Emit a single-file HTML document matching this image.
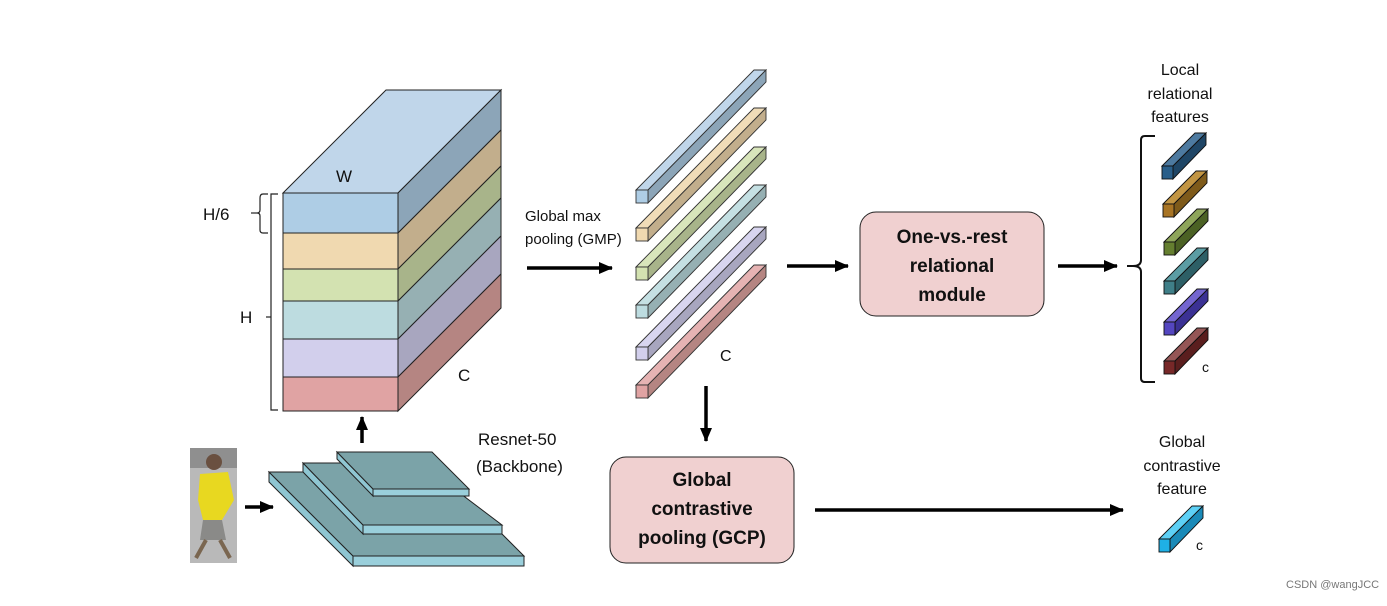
<!DOCTYPE html>
<html><head><style>
body{margin:0;background:#fff}
svg text{font-family:"Liberation Sans",sans-serif;fill:#111}
</style></head><body>
<svg width="1387" height="601" viewBox="0 0 1387 601" xmlns="http://www.w3.org/2000/svg">
<defs>
<marker id="a2" markerWidth="14" markerHeight="12" refX="13" refY="6" orient="auto" markerUnits="userSpaceOnUse"><path d="M0,0 L14,6 L0,12 z" fill="#000"/></marker></defs>
<g stroke="#222" stroke-width="1">
<polygon points="283,193 386,90 501,90 398,193" fill="#c0d6ea"/>
<polygon points="398,193 501,90 501,130 398,233" fill="#8ca5b8"/>
<polygon points="398,233 501,130 501,166 398,269" fill="#c2ae8c"/>
<polygon points="398,269 501,166 501,198 398,301" fill="#a8b48a"/>
<polygon points="398,301 501,198 501,236 398,339" fill="#96b0b3"/>
<polygon points="398,339 501,236 501,274 398,377" fill="#a8a6bf"/>
<polygon points="398,377 501,274 501,308 398,411" fill="#b58582"/>
<rect x="283" y="193" width="115" height="40" fill="#aecde5"/>
<rect x="283" y="233" width="115" height="36" fill="#f0d9b0"/>
<rect x="283" y="269" width="115" height="32" fill="#d3e2b1"/>
<rect x="283" y="301" width="115" height="38" fill="#bddce0"/>
<rect x="283" y="339" width="115" height="38" fill="#d2cfec"/>
<rect x="283" y="377" width="115" height="34" fill="#e0a3a3"/>
</g>
<path d="M278,194 h-7 v216 h7" fill="none" stroke="#222" stroke-width="1.2"/>
<path d="M271,317 h-5" stroke="#222" stroke-width="1.2"/>
<path d="M268,194 h-5 q-3,0 -3,4 v12 q0,3 -3,3 q3,0 3,3 v14 q0,3 3,3 h5" fill="none" stroke="#222" stroke-width="1.2"/>
<path d="M257,213 h-6" stroke="#222" stroke-width="1.2"/>
<text x="336" y="182" font-size="17">W</text>
<text x="203" y="220" font-size="17">H/6</text>
<text x="240" y="323" font-size="17">H</text>
<text x="458" y="381" font-size="17">C</text>
<g stroke="#333" stroke-width="0.9">
<polygon points="636,190 754,70 766,70 648,190" fill="#c0d6ea"/><polygon points="648,190 766,70 766,82 648,203" fill="#8ca5b8"/><rect x="636" y="190" width="12" height="13" fill="#aecde5"/>
<polygon points="636,228 754,108 766,108 648,228" fill="#f0dcb8"/><polygon points="648,228 766,108 766,120 648,241" fill="#c2ae8c"/><rect x="636" y="228" width="12" height="13" fill="#f0d9b0"/>
<polygon points="636,267 754,147 766,147 648,267" fill="#d8e5bb"/><polygon points="648,267 766,147 766,159 648,280" fill="#a8b48a"/><rect x="636" y="267" width="12" height="13" fill="#d3e2b1"/>
<polygon points="636,305 754,185 766,185 648,305" fill="#c5e0e3"/><polygon points="648,305 766,185 766,197 648,318" fill="#96b0b3"/><rect x="636" y="305" width="12" height="13" fill="#bddce0"/>
<polygon points="636,347 754,227 766,227 648,347" fill="#d8d5ef"/><polygon points="648,347 766,227 766,239 648,360" fill="#a8a6bf"/><rect x="636" y="347" width="12" height="13" fill="#d2cfec"/>
<polygon points="636,385 754,265 766,265 648,385" fill="#e6b3b3"/><polygon points="648,385 766,265 766,277 648,398" fill="#b58582"/><rect x="636" y="385" width="12" height="13" fill="#e0a3a3"/>
</g>
<text x="720" y="361" font-size="16">C</text>
<text x="525" y="221" font-size="15">Global max</text>
<text x="525" y="244" font-size="15">pooling (GMP)</text>
<g stroke="#000" stroke-width="3.5" fill="none">
<line x1="527" y1="268" x2="612" y2="268" marker-end="url(#a2)"/>
<line x1="787" y1="266" x2="848" y2="266" marker-end="url(#a2)"/>
<line x1="1058" y1="266" x2="1117" y2="266" marker-end="url(#a2)"/>
<line x1="706" y1="386" x2="706" y2="441" marker-end="url(#a2)"/>
<line x1="815" y1="510" x2="1123" y2="510" marker-end="url(#a2)"/>
<line x1="362" y1="443" x2="362" y2="417" marker-end="url(#a2)"/>
<line x1="245" y1="507" x2="273" y2="507" marker-end="url(#a2)"/>
</g>
<rect x="860" y="212" width="184" height="104" rx="16" fill="#f0d0d0" stroke="#222" stroke-width="1"/>
<text font-size="19" font-weight="bold" text-anchor="middle"><tspan x="952" y="243">One-vs.-rest</tspan><tspan x="952" y="272">relational</tspan><tspan x="952" y="301">module</tspan></text>
<rect x="610" y="457" width="184" height="106" rx="16" fill="#f0d0d0" stroke="#222" stroke-width="1"/>
<text font-size="19" font-weight="bold" text-anchor="middle"><tspan x="702" y="486">Global</tspan><tspan x="702" y="515">contrastive</tspan><tspan x="702" y="544">pooling (GCP)</tspan></text>
<path d="M1155,136 h-10 q-4,0 -4,4 v120 q0,6 -8,6 q8,0 8,6 v106 q0,4 4,4 h10" fill="none" stroke="#111" stroke-width="2"/>
<path d="M1133,266 h-6" stroke="#111" stroke-width="2"/>
<g stroke="#111" stroke-width="0.9">
<g><polygon points="1162,166 1195,133 1206,133 1173,166" fill="#4d7aa0"/><polygon points="1173,166 1206,133 1206,145 1173,179" fill="#1f4666"/><rect x="1162" y="166" width="11" height="13" fill="#2a5f8a"/></g>
<g><polygon points="1163,204 1196,171 1207,171 1174,204" fill="#c29543"/><polygon points="1174,204 1207,171 1207,183 1174,217" fill="#7e5a1a"/><rect x="1163" y="204" width="11" height="13" fill="#a87424"/></g>
<g><polygon points="1164,242 1197,209 1208,209 1175,242" fill="#8ea55a"/><polygon points="1175,242 1208,209 1208,221 1175,255" fill="#4b6124"/><rect x="1164" y="242" width="11" height="13" fill="#657f30"/></g>
<g><polygon points="1164,281 1197,248 1208,248 1175,281" fill="#5b9da4"/><polygon points="1175,281 1208,248 1208,260 1175,294" fill="#2d5f66"/><rect x="1164" y="281" width="11" height="13" fill="#3f7f88"/></g>
<g><polygon points="1164,322 1197,289 1208,289 1175,322" fill="#7466d0"/><polygon points="1175,322 1208,289 1208,301 1175,335" fill="#3b3194"/><rect x="1164" y="322" width="11" height="13" fill="#5446c0"/></g>
<g><polygon points="1164,361 1197,328 1208,328 1175,361" fill="#955656"/><polygon points="1175,361 1208,328 1208,340 1175,374" fill="#5a1e1e"/><rect x="1164" y="361" width="11" height="13" fill="#772828"/></g>
<g><polygon points="1159,539 1192,506 1203,506 1170,539" fill="#5dd0f5"/><polygon points="1170,539 1203,506 1203,518 1170,552" fill="#1a8ab8"/><rect x="1159" y="539" width="11" height="13" fill="#1fb0e6"/></g>
</g>
<text x="1202" y="372" font-size="14">c</text>
<text x="1196" y="550" font-size="14">c</text>
<text font-size="16" text-anchor="middle"><tspan x="1180" y="75">Local</tspan><tspan x="1180" y="99">relational</tspan><tspan x="1180" y="122">features</tspan></text>
<text font-size="16" text-anchor="middle"><tspan x="1182" y="447">Global</tspan><tspan x="1182" y="471">contrastive</tspan><tspan x="1182" y="494">feature</tspan></text>
<g stroke="#222" stroke-width="1">
<polygon points="269,472 353,556 353,566 269,482" fill="#8fc6d2"/>
<polygon points="353,556 524,556 524,566 353,566" fill="#9acfdb"/>
<polygon points="269,472 440,472 524,556 353,556" fill="#7ba3a8"/>
<polygon points="303,463 363,525 363,534 303,472" fill="#8fc6d2"/>
<polygon points="363,525 502,525 502,534 363,534" fill="#9acfdb"/>
<polygon points="303,463 420,463 502,525 363,525" fill="#7ba3a8"/>
<polygon points="337,452 373,489 373,496 337,459" fill="#8fc6d2"/>
<polygon points="373,489 469,489 469,496 373,496" fill="#9acfdb"/>
<polygon points="337,452 432,452 469,489 373,489" fill="#7ba3a8"/>
</g>
<text x="478" y="445" font-size="17">Resnet-50</text>
<text x="476" y="472" font-size="17">(Backbone)</text>
<rect x="190" y="448" width="47" height="115" fill="#b9b9b9"/>
<rect x="190" y="448" width="47" height="20" fill="#8f8f8f"/>
<circle cx="214" cy="462" r="8" fill="#6a5040"/>
<polygon points="200,474 228,472 234,500 222,520 203,520 198,500" fill="#e8d820"/>
<polygon points="203,520 222,520 226,540 200,540" fill="#8a8a88"/>
<line x1="206" y1="540" x2="196" y2="558" stroke="#7a6650" stroke-width="4"/>
<line x1="220" y1="540" x2="230" y2="558" stroke="#7a6650" stroke-width="4"/>
<text x="1286" y="588" font-size="11" style="fill:#777">CSDN @wangJCC</text>
</svg>
</body></html>
